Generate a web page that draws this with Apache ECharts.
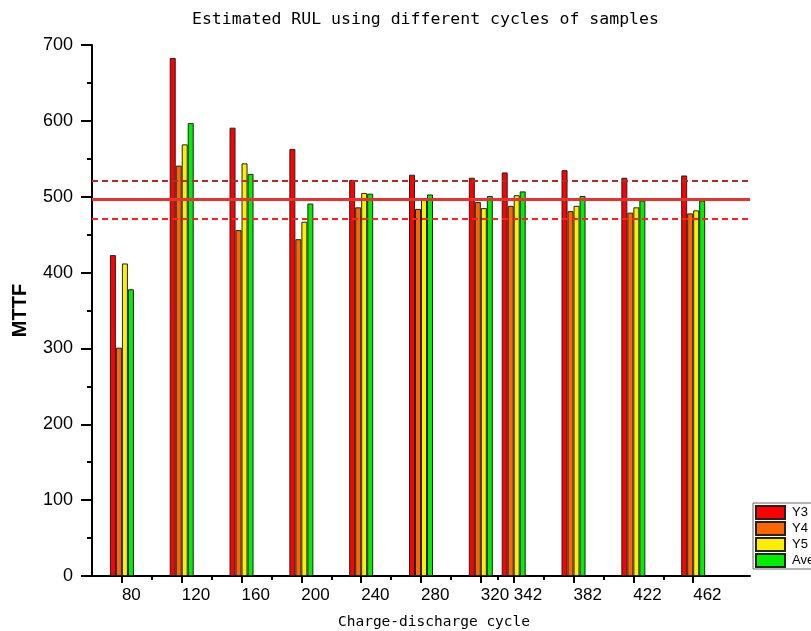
<!DOCTYPE html>
<html>
<head>
<meta charset="utf-8">
<script src="https://cdn.jsdelivr.net/npm/echarts@6/dist/echarts.min.js"></script>
<style>html,body{margin:0;padding:0;background:#fff}#c{width:811px;height:631px}</style>
</head>
<body>
<div id="c"></div>
<script>
// ---- data ----
const cycles = [80, 120, 160, 200, 240, 280, 320, 342, 382, 422, 462];
const minorTicks = [100, 140, 180, 220, 260, 300, 331, 362, 402, 442];
const y3 = [423, 683, 591, 563, 522, 529, 525, 532, 535, 525, 528];
const y4 = [301, 541, 456, 444, 486, 484, 493, 488, 481, 479, 478];
const y5 = [412, 569, 544, 467, 505, 497, 485, 502, 488, 486, 482];
const ave = [378, 597, 530, 491, 504, 503, 501, 507, 501, 495, 495];
const seriesNames = ['Y3', 'Y4', 'Y5', 'Average'];
const refUpper = 521;
const refMean = 496;
const refLower = 471;

const colors = ['#ff0000', '#ff6600', '#ffee00', '#00ee00'];
const values = [y3, y4, y5, ave];

const chart = echarts.init(document.getElementById('c'));

const barSeries = seriesNames.map((n, i) => ({
  name: n,
  type: 'bar',
  xAxisIndex: 0,
  barWidth: 6,
  barGap: '0%',
  data: cycles.map((c, k) => [c, values[i][k]]),
  itemStyle: { color: colors[i], borderColor: '#222', borderWidth: 1 }
}));

chart.setOption({
  animation: false,
  backgroundColor: '#fff',
  title: {
    text: 'Estimated RUL using different cycles of samples',
    left: 192, top: 11, padding: 0,
    textStyle: { fontFamily: 'DejaVu Sans Mono', fontSize: 16.5, fontWeight: 'normal', color: '#000' }
  },
  legend: {
    data: seriesNames,
    orient: 'vertical',
    left: 753, top: 503,
    padding: [2, 30, 1, 2],
    itemWidth: 29, itemHeight: 13, itemGap: 1,
    borderColor: '#666', borderWidth: 1,
    icon: 'rect',
    textStyle: { fontFamily: 'Liberation Sans', fontSize: 13, lineHeight: 13, color: '#000', padding: [0, 0, 0, 2] }
  },
  grid: { left: 92, right: 61, top: 45, bottom: 55, containLabel: false, outerBoundsMode: 'none' },
  xAxis: [{
    type: 'value', min: 60, max: 500,
    name: 'Charge-discharge cycle', nameLocation: 'middle', nameGap: 39,
    nameTextStyle: { fontFamily: 'DejaVu Sans Mono', fontSize: 14.5, color: '#000', padding: [0, 0, 0, 26] },
    axisLine: { show: true, onZero: false, lineStyle: { color: '#000', width: 2 } },
    axisTick: { show: true, customValues: cycles, length: 7, inside: false, lineStyle: { color: '#000', width: 2 } },
    axisLabel: { customValues: cycles, align: 'left', margin: 11, fontFamily: 'Liberation Sans', fontSize: 17, color: '#000' },
    splitLine: { show: false }
  }, {
    type: 'value', min: 60, max: 500, position: 'bottom',
    axisLine: { show: false },
    axisTick: { show: true, customValues: minorTicks, length: 4, lineStyle: { color: '#000', width: 2 } },
    axisLabel: { show: false },
    splitLine: { show: false }
  }],
  yAxis: {
    type: 'value', min: 0, max: 700, interval: 100,
    name: 'MTTF', nameLocation: 'middle', nameGap: 62,
    nameTextStyle: { fontFamily: 'Liberation Sans', fontSize: 20, fontWeight: 'bold', color: '#000' },
    axisLine: { show: true, lineStyle: { color: '#000', width: 2 } },
    axisTick: { show: true, length: 11, lineStyle: { color: '#000', width: 2 } },
    minorTick: { show: true, splitNumber: 2, length: 5, lineStyle: { color: '#000', width: 2 } },
    axisLabel: { margin: 19, fontFamily: 'Liberation Sans', fontSize: 18, color: '#000' },
    splitLine: { show: false }
  },
  series: barSeries.concat([{
    name: 'ref', type: 'line', data: [], z: 10, silent: true,
    markLine: {
      symbol: 'none', silent: true, animation: false,
      label: { show: false },
      data: [
        { yAxis: refUpper, lineStyle: { color: '#b52a2a', width: 2, type: [6, 4] } },
        { yAxis: refMean, lineStyle: { color: '#e83232', width: 3, type: 'solid' } },
        { yAxis: refLower, lineStyle: { color: '#ff2020', width: 2, type: [6, 4] } }
      ]
    }
  }])
});
</script>
</body>
</html>
